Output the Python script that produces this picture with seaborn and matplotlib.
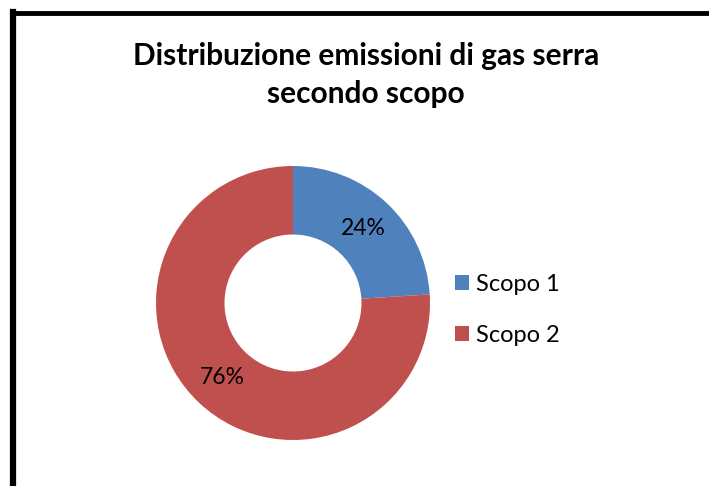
import matplotlib
matplotlib.use("Agg")
import matplotlib.pyplot as plt
import seaborn as sns
from matplotlib.lines import Line2D
from matplotlib.patches import Patch

categories = ["Scopo 1", "Scopo 2"]
values = [24, 76]
colors = ["#4F81BD", "#C0504D"]
title = "Distribuzione emissioni di gas serra\nsecondo scopo"

sns.set_theme(style="white")
plt.rcParams['font.family'] = ['Lato', 'DejaVu Sans']
plt.rcParams['text.color'] = 'black'

W, H = 709, 486
fig = plt.figure(figsize=(W/100, H/100), dpi=100)
fig.patch.set_facecolor("white")

cx, cy, R = 293, 303, 137
ax = fig.add_axes([(cx-R)/W, (H-cy-R)/H, 2*R/W, 2*R/H])
wedges, texts, autotexts = ax.pie(
    values, colors=colors, startangle=90, counterclock=False,
    autopct=lambda p: f"{p:.0f}%", pctdistance=0.75,
    wedgeprops=dict(width=0.5, edgecolor="none"), radius=1.0,
    textprops=dict(fontsize=16.5, color="black"))
ax.set_xlim(-1, 1)
ax.set_ylim(-1, 1)
ax.axis("off")

fig.text(366/W, 1-75/H, title, ha="center", va="center", fontsize=21.5,
         fontweight="bold", linespacing=1.42, color="black")

handles = [Patch(facecolor=c, edgecolor="none") for c in colors]
leg = fig.legend(handles, categories, loc="center left",
                 bbox_to_anchor=(455/W, 1-310/H), frameon=False, fontsize=17,
                 handlelength=0.6, handleheight=0.6, handletextpad=0.3,
                 labelspacing=1.28, borderpad=0, borderaxespad=0)
for t in leg.get_texts():
    t.set_color("black")

# chart frame (left and top edges visible)
fig.add_artist(Line2D([13/W, 13/W], [0, 1-12/H], transform=fig.transFigure,
                      color="black", linewidth=4.5, solid_capstyle="projecting"))
fig.add_artist(Line2D([13/W, 1], [1-13/H, 1-13/H], transform=fig.transFigure,
                      color="black", linewidth=3.5, solid_capstyle="projecting"))

fig.savefig("out.png", dpi=100, facecolor="white")
